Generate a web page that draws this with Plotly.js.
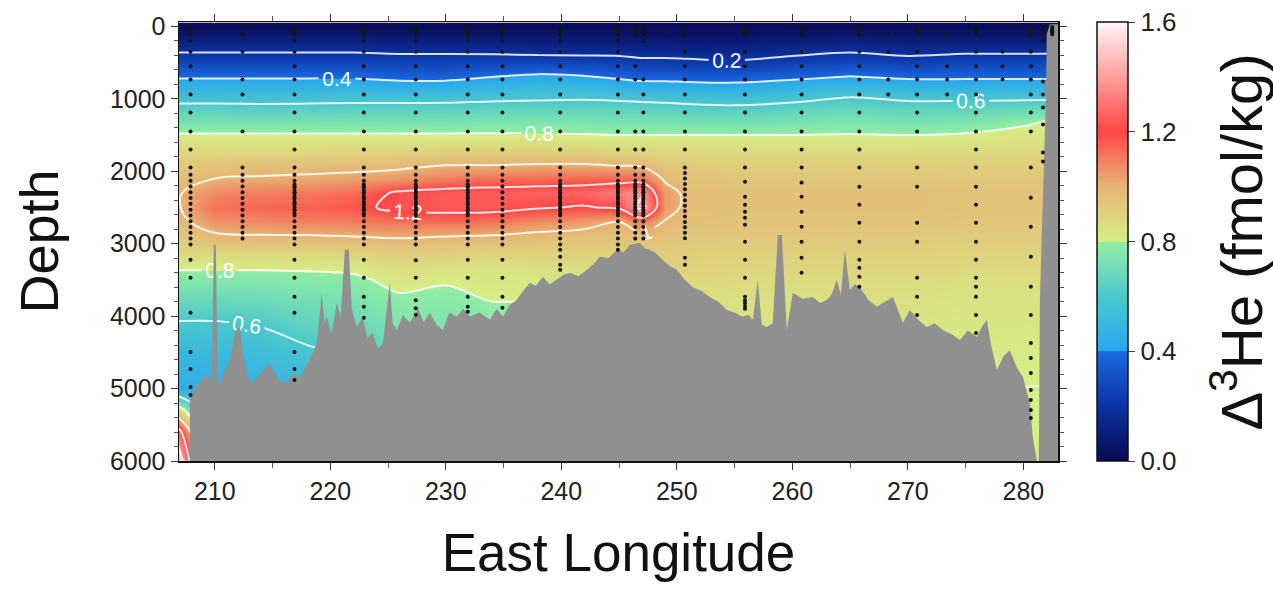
<!DOCTYPE html>
<html>
<head>
<meta charset="utf-8">
<script src="https://cdn.plot.ly/plotly-3.0.1.min.js"></script>
<style>
  html, body { margin: 0; padding: 0; background: #ffffff; }
  #chart { width: 1273px; height: 589px; }
</style>
</head>
<body>
<div id="chart"></div>
<script>
// Section grid: longitude (°E) columns and depth (m) rows
const lonGrid = [206.8, 210, 214, 218, 222, 226, 230, 234, 238, 242, 245, 247, 249, 251, 255, 260, 265, 270, 275, 280, 283.2];
const depthGrid = [0, 100, 200, 350, 500, 700, 850, 1000, 1150, 1300, 1500, 1700, 1900, 2100, 2300, 2500, 2700, 2900, 3100, 3300, 3500, 3800, 4100, 4500, 5000, 5300, 5600, 6000];

// Δ3He (fmol/kg), one row per depth level
const he3 = [
  /*    0 */ [0.02,0.02,0.02,0.02,0.02,0.02,0.02,0.02,0.02,0.02,0.02,0.02,0.02,0.02,0.02,0.02,0.02,0.02,0.02,0.02,0.02],
  /*  100 */ [0.06,0.06,0.06,0.06,0.06,0.05,0.05,0.05,0.05,0.05,0.05,0.04,0.04,0.04,0.04,0.05,0.06,0.05,0.05,0.05,0.05],
  /*  200 */ [0.11,0.11,0.11,0.11,0.11,0.105,0.105,0.103,0.095,0.095,0.095,0.089,0.089,0.087,0.083,0.095,0.11,0.095,0.105,0.105,0.105],
  /*  350 */ [0.194,0.194,0.194,0.194,0.194,0.184,0.184,0.179,0.167,0.167,0.167,0.156,0.156,0.152,0.146,0.167,0.194,0.167,0.184,0.184,0.184],
  /*  500 */ [0.278,0.278,0.278,0.278,0.278,0.263,0.263,0.271,0.273,0.262,0.252,0.232,0.232,0.226,0.214,0.25,0.285,0.252,0.268,0.268,0.268],
  /*  700 */ [0.389,0.389,0.389,0.389,0.389,0.368,0.368,0.4,0.432,0.412,0.381,0.361,0.361,0.355,0.349,0.375,0.407,0.381,0.381,0.381,0.381],
  /*  850 */ [0.476,0.476,0.475,0.476,0.479,0.463,0.464,0.491,0.511,0.503,0.483,0.467,0.464,0.455,0.449,0.473,0.514,0.483,0.482,0.482,0.482],
  /* 1000 */ [0.565,0.565,0.562,0.565,0.57,0.568,0.571,0.582,0.589,0.594,0.586,0.578,0.571,0.559,0.548,0.573,0.613,0.586,0.586,0.586,0.586],
  /* 1150 */ [0.644,0.644,0.642,0.644,0.648,0.649,0.651,0.657,0.662,0.662,0.658,0.655,0.651,0.643,0.634,0.651,0.675,0.655,0.662,0.684,0.708],
  /* 1300 */ [0.717,0.717,0.716,0.717,0.719,0.72,0.721,0.729,0.733,0.729,0.724,0.723,0.72,0.714,0.706,0.721,0.738,0.718,0.733,0.781,0.81],
  /* 1500 */ [0.81,0.81,0.81,0.81,0.81,0.81,0.81,0.81,0.81,0.805,0.8,0.8,0.8,0.8,0.8,0.8,0.805,0.8,0.81,0.83,0.84],
  /* 1700 */ [0.87,0.87,0.87,0.87,0.88,0.88,0.89,0.89,0.89,0.89,0.88,0.88,0.87,0.87,0.86,0.86,0.86,0.86,0.865,0.87,0.87],
  /* 1900 */ [0.92,0.94,0.95,0.95,0.96,0.97,0.99,0.99,1.0,1.0,0.98,0.97,0.93,0.92,0.91,0.91,0.91,0.91,0.91,0.91,0.91],
  /* 2100 */ [0.96,1.0,1.01,1.02,1.03,1.05,1.1,1.12,1.13,1.14,1.14,1.12,0.98,0.95,0.94,0.94,0.94,0.94,0.93,0.93,0.93],
  /* 2300 */ [0.99,1.08,1.1,1.11,1.13,1.22,1.24,1.25,1.26,1.27,1.32,1.38,1.05,0.97,0.96,0.96,0.96,0.96,0.95,0.95,0.95],
  /* 2500 */ [0.99,1.12,1.14,1.15,1.17,1.23,1.24,1.24,1.21,1.19,1.22,1.45,1.05,0.97,0.96,0.96,0.96,0.96,0.95,0.95,0.95],
  /* 2700 */ [0.97,1.06,1.08,1.09,1.1,1.12,1.13,1.12,1.07,1.04,1.0,1.1,0.99,0.96,0.95,0.95,0.95,0.95,0.94,0.94,0.94],
  /* 2900 */ [0.93,0.98,0.99,0.99,1.0,1.01,1.0,0.99,0.97,0.96,0.95,0.97,0.95,0.94,0.93,0.93,0.93,0.93,0.92,0.92,0.92],
  /* 3100 */ [0.88,0.9,0.9,0.9,0.91,0.93,0.92,0.91,0.91,0.91,0.91,0.92,0.92,0.92,0.91,0.91,0.91,0.91,0.9,0.9,0.9],
  /* 3300 */ [0.82,0.82,0.82,0.82,0.83,0.87,0.85,0.84,0.86,0.87,0.89,0.9,0.9,0.9,0.89,0.89,0.89,0.89,0.88,0.88,0.88],
  /* 3500 */ [0.76,0.76,0.76,0.77,0.78,0.83,0.81,0.83,0.83,0.84,0.88,0.89,0.88,0.88,0.87,0.87,0.87,0.87,0.86,0.86,0.86],
  /* 3800 */ [0.68,0.68,0.69,0.71,0.73,0.78,0.77,0.8,0.8,0.82,0.87,0.88,0.87,0.86,0.85,0.85,0.85,0.85,0.84,0.84,0.84],
  /* 4100 */ [0.59,0.59,0.61,0.66,0.68,0.75,0.74,0.77,0.78,0.8,0.86,0.87,0.86,0.85,0.84,0.84,0.84,0.84,0.83,0.83,0.83],
  /* 4500 */ [0.5,0.51,0.53,0.58,0.62,0.7,0.7,0.74,0.76,0.79,0.85,0.86,0.85,0.84,0.83,0.83,0.83,0.83,0.82,0.81,0.81],
  /* 5000 */ [0.45,0.46,0.47,0.5,0.58,0.68,0.7,0.74,0.76,0.79,0.84,0.85,0.84,0.83,0.82,0.82,0.82,0.82,0.81,0.8,0.8],
  /* 5300 */ [0.88,0.46,0.46,0.48,0.58,0.68,0.7,0.74,0.76,0.79,0.84,0.85,0.84,0.83,0.82,0.82,0.82,0.82,0.81,0.8,0.8],
  /* 5600 */ [1.28,0.45,0.45,0.48,0.58,0.68,0.7,0.74,0.76,0.79,0.84,0.85,0.84,0.83,0.82,0.82,0.82,0.82,0.81,0.8,0.8],
  /* 6000 */ [1.55,0.45,0.45,0.48,0.58,0.68,0.7,0.74,0.76,0.79,0.84,0.85,0.84,0.83,0.82,0.82,0.82,0.82,0.81,0.8,0.8]
];

// Seafloor profile along the section (°E, m)
const bathyLon = [207.84, 207.84, 208.27, 208.70, 209.31, 209.74, 209.91, 210.09, 210.26, 210.8, 211.30, 211.82, 212.16, 212.51, 212.9, 213.29, 214.0, 214.76, 215.5, 216.23, 216.8, 217.36, 218.23, 218.83, 219.26, 219.5, 219.70, 220.1, 220.56, 220.9, 221.26, 221.60, 221.86, 222.3, 222.81, 223.2, 223.68, 224.1, 224.55, 225.15, 225.4, 225.76, 226.3, 226.88, 227.6, 228.1, 228.61, 229.2, 229.74, 230.3, 230.95, 231.5, 232.08, 232.9, 233.81, 234.4, 234.94, 235.5, 236.15, 236.7, 237.27, 237.8, 238.40, 239.0, 239.61, 240.2, 240.74, 241.5, 242.21, 242.8, 243.33, 244.1, 244.81, 245.4, 245.93, 246.80, 247.2, 247.66, 248.1, 248.53, 249.3, 250.00, 250.7, 251.39, 252.1, 252.86, 253.6, 254.33, 255.0, 255.71, 256.2, 256.58, 257.01, 257.36, 257.79, 258.3, 258.74, 259.09, 259.52, 260.04, 260.9, 261.77, 262.4, 262.99, 263.4, 263.85, 264.2, 264.55, 264.98, 265.4, 265.84, 266.6, 267.32, 268.0, 268.70, 269.1, 269.57, 270.17, 270.9, 271.65, 272.3, 273.03, 273.8, 274.50, 275.2, 275.97, 276.4, 276.84, 277.2, 277.71, 278.3, 278.83, 279.4, 279.96, 280.56, 280.82, 281.17, 281.34, 281.43, 281.69, 281.95, 282.03, 282.30, 283.20];
const bathyDepth = [6000, 5160, 4990, 4920, 4810, 4920, 3015, 3015, 4950, 4780, 4600, 4190, 4150, 4600, 4850, 4920, 4780, 4650, 4880, 4920, 4790, 4840, 4600, 4370, 3680, 4100, 4010, 4250, 3820, 4000, 3085, 3085, 3910, 4150, 4010, 4300, 4230, 4450, 4370, 3540, 4100, 4190, 3980, 4090, 3900, 4080, 3955, 4120, 4190, 3950, 4010, 3900, 4010, 3950, 4050, 3900, 4010, 3850, 3775, 3650, 3540, 3580, 3460, 3560, 3500, 3430, 3400, 3450, 3360, 3280, 3180, 3200, 3085, 3120, 3015, 2990, 3060, 3085, 3120, 3180, 3300, 3360, 3500, 3600, 3650, 3735, 3800, 3915, 3950, 4010, 3980, 4050, 3500, 4120, 4150, 4100, 2880, 2880, 4190, 3680, 3760, 3735, 3820, 3775, 3700, 3500, 3700, 3085, 3640, 3560, 3600, 3780, 3870, 3800, 3735, 3900, 4095, 3915, 4050, 4150, 4100, 4190, 4250, 4330, 4200, 4290, 4150, 4050, 4400, 4745, 4550, 4470, 4700, 4840, 5200, 5670, 6000, 6000, 3775, 2390, 1010, 110, -30, -30];

// Bottle sampling depths (m)
const upperLevels = [15, 60, 110, 200, 350, 550, 733, 940, 1190, 1452, 1701, 1950];
const denseBand = [2050, 2130, 2210, 2290, 2370, 2450, 2530, 2610, 2690, 2770, 2850, 2930];
const tightBand = [2180, 2220, 2260, 2300, 2340, 2380, 2420, 2460, 2500, 2540, 2580];

const stationLon = [207.9, 212.4, 216.9, 222.9, 227.4, 231.9, 234.9, 239.9, 244.9, 246.4, 247.1, 250.7, 255.9, 260.8, 265.8, 268.3, 270.8, 273.4, 275.9, 278.2, 280.65, 281.7, 282.5];
const stationSamples = [
  [...upperLevels, ...denseBand, 3010, 3222, 3471, 3955, 4495, 4730, 4979, 5089],
  [15, 110, 350, 733, 940, 1452, 1950, ...denseBand],
  [...upperLevels, ...denseBand, ...tightBand, 3010, 3222, 3471, 3734, 3955, 4495, 4730, 4882],
  [...upperLevels, ...denseBand, ...tightBand, 3010, 3222, 3471, 3734, 3872, 4024],
  [...upperLevels, ...denseBand, ...tightBand, 3010, 3230, 3470, 3780, 3890, 3980],
  [...upperLevels, ...denseBand, ...tightBand, 3010, 3222, 3471, 3734, 3872, 3941],
  [...upperLevels, ...denseBand, 3010, 3222, 3471, 3734, 3886],
  [...upperLevels, ...denseBand, ...tightBand, 3010, 3084, 3180, 3291, 3360],
  [...upperLevels, ...denseBand, ...tightBand, 3010, 3084],
  [15, 60, 110, 550, 733, 1452, 1701, 1950, ...denseBand, ...tightBand],
  [15, 60, 110, 200, 733, 940, 1190, 1452, 1701, 1950, ...denseBand, ...tightBand],
  [15, 110, 350, 550, 733, 940, 1190, 1452, 1701, 1950, 2025, 2100, 2175, 2250, 2325, 2400, 2475, 2550, 2625, 2700, 2775, 2850, 2925, 3195, 3291],
  [15, 60, 110, 350, 550, 733, 940, 1190, 1452, 1701, 1950, 2144, 2351, 2462, 2559, 2641, 2738, 2973, 3222, 3471, 3734, 3780, 3820, 3860, 3900],
  [15, 60, 110, 350, 550, 733, 940, 1190, 1452, 1701, 1950, 2157, 2351, 2559, 2766, 2973, 3195, 3402],
  [15, 60, 110, 350, 550, 733, 940, 1190, 1452, 1701, 1950, 2213, 2462, 2711, 2973, 3222, 3333, 3457, 3596],
  [110, 350, 733, 940],
  [15, 60, 110, 350, 550, 733, 940, 1190, 1452, 1950, 2213, 2711, 2973, 3471, 3734, 3983],
  [110, 550, 733, 940],
  [15, 60, 110, 350, 550, 733, 940, 1190, 1452, 1701, 1950, 2213, 2462, 2711, 2973, 3222, 3471, 3596, 3734, 3983, 4232],
  [350, 550, 733],
  [15, 60, 110, 350, 550, 733, 940, 1190, 1452, 1950, 2365, 2766, 3180, 3596, 3983, 4370, 4578, 4785, 5020, 5158, 5297, 5407],
  [15, 60, 110, 200, 760, 940, 1120, 1355, 1743, 1867],
  [10, 30, 50, 70, 90, 110]
];

const lonTicks = [210, 220, 230, 240, 250, 260, 270, 280];
const depthTicks = [0, 1000, 2000, 3000, 4000, 5000, 6000];
const scaleTicks = [0, 0.4, 0.8, 1.2, 1.6];
const scaleTickText = ['0.0', '0.4', '0.8', '1.2', '1.6'];
const contourLevels = { start: 0.2, end: 1.4, size: 0.2 };

const maxDepth = 6000;
const FONT = 'Liberation Sans, Arial, Helvetica, sans-serif';

// Colour map with breaks at 0.4 and 0.8
const zMax = 1.6;
const he3Colors = [
  [0.0, '#0a0a52'],
  [0.125, '#0b33a4'],
  [0.2499, '#1a6ae2'],
  [0.25, '#25a6f0'],
  [0.375, '#4cc8cc'],
  [0.4999, '#92eea2'],
  [0.5, '#d6ee86'],
  [0.625, '#e6b474'],
  [0.75, '#ff4646'],
  [0.875, '#ff9e9e'],
  [1.0, '#fff7f7']
];

// Flatten stations into point lists
const dotX = [], dotY = [];
stationLon.forEach((lon, i) => {
  stationSamples[i].forEach(d => { dotX.push(lon); dotY.push(d); });
});

// Close the seafloor polygon along the bottom of the section
const floorX = bathyLon.concat([bathyLon[bathyLon.length - 1]]);
const floorY = bathyDepth.concat([maxDepth]);

const traces = [
  {
    type: 'heatmap',
    x: lonGrid, y: depthGrid, z: he3,
    zmin: 0, zmax: zMax, zsmooth: 'best',
    colorscale: he3Colors,
    hoverinfo: 'skip',
    colorbar: {
      x: 1.0444, xanchor: 'left', xpad: 0,
      y: 0.5, yanchor: 'middle', len: 1, lenmode: 'fraction', ypad: 0,
      thickness: 31, thicknessmode: 'pixels',
      outlinewidth: 1.5, outlinecolor: '#111',
      ticks: 'outside', ticklen: 7, tickcolor: '#444', tickwidth: 1,
      tickvals: scaleTicks, ticktext: scaleTickText,
      tickfont: { family: FONT, size: 26, color: '#222' }
    }
  },
  {
    type: 'contour',
    x: lonGrid, y: depthGrid, z: he3,
    showscale: false,
    autocontour: false,
    contours: {
      coloring: 'none',
      start: contourLevels.start, end: contourLevels.end, size: contourLevels.size,
      showlabels: true,
      labelfont: { family: FONT, size: 21, color: '#ffffff' }
    },
    line: { color: 'rgba(255,255,255,0.85)', width: 2, smoothing: 1 },
    hoverinfo: 'skip'
  },
  {
    type: 'scatter', mode: 'lines',
    x: floorX, y: floorY,
    fill: 'toself', fillcolor: '#909090',
    line: { width: 0, color: '#909090' },
    hoverinfo: 'skip', showlegend: false
  },
  {
    type: 'scatter', mode: 'markers',
    x: dotX, y: dotY,
    marker: { size: 4, color: '#151515' },
    hoverinfo: 'skip', showlegend: false
  }
];

const layout = {
  width: 1273, height: 589,
  margin: { l: 179, r: 215, t: 22, b: 128 },
  paper_bgcolor: '#ffffff', plot_bgcolor: '#ffffff',
  font: { family: FONT, color: '#222' },
  showlegend: false,
  xaxis: {
    range: [206.9, 283.0],
    tickvals: lonTicks,
    ticks: 'outside', ticklen: 7, tickcolor: '#333', tickwidth: 1,
    minor: { dtick: 5, tick0: 0, ticks: 'outside', ticklen: 5, tickcolor: '#555' },
    showline: true, linecolor: '#111', linewidth: 1.5, mirror: 'ticks',
    showgrid: false, zeroline: false,
    tickfont: { family: FONT, size: 25, color: '#222' },
    title: { text: 'East Longitude', font: { family: FONT, size: 53, color: '#111' }, standoff: 30 }
  },
  yaxis: {
    range: [maxDepth, -60],
    tickvals: depthTicks,
    ticks: 'outside', ticklen: 7, tickcolor: '#333', tickwidth: 1,
    minor: { dtick: 200, tick0: 0, ticks: 'outside', ticklen: 4, tickcolor: '#555' },
    showline: true, linecolor: '#111', linewidth: 1.5, mirror: 'ticks',
    showgrid: false, zeroline: false,
    tickfont: { family: FONT, size: 25, color: '#222' },
    title: { text: 'Depth', font: { family: FONT, size: 54, color: '#111' }, standoff: 34 }
  },
  annotations: [{
    text: 'Δ<sup>3</sup>He (fmol/kg)',
    xref: 'paper', yref: 'paper', x: 1.2036, y: 0.5,
    xanchor: 'center', yanchor: 'middle',
    textangle: -90, showarrow: false,
    font: { family: FONT, size: 58, color: '#111' }
  }]
};

Plotly.newPlot('chart', traces, layout, { displayModeBar: false, staticPlot: true });
</script>
</body>
</html>
